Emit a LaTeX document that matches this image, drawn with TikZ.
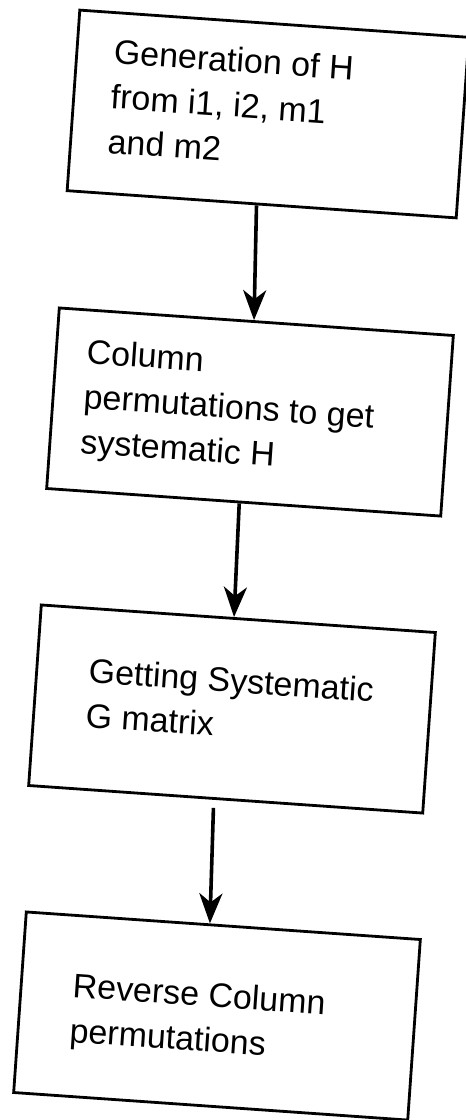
\documentclass[tikz,border=0pt]{standalone}
\usepackage{fontspec}
\setmainfont{Liberation Sans}
\usetikzlibrary{arrows.meta,calc}
\begin{document}
\begin{tikzpicture}[x=1pt,y=1pt,
  flowbox/.style={draw, line width=2.8pt, minimum width=395pt, minimum height=181pt, inner sep=0pt},
  flowtext/.style={anchor=north west, align=left, inner sep=0pt, font=\fontsize{34}{45}\selectfont},
  flowarrow/.style={line width=3.6pt, -{Stealth[length=30pt,width=23pt,inset=9pt]}}]
\useasboundingbox (0,0) rectangle (466,-1120);
\begin{scope}[shift={(268,-114)},rotate=-4,transform shape]
  \node[flowbox, minimum width=390pt] (b1) at (0,0) {};
  \node[flowtext] (t1) at (-158,64.5) {Generation of H\\from i1, i2, m1\\and m2};
\end{scope}
\begin{scope}[shift={(250,-412)},rotate=-4,transform shape]
  \node[flowbox] (b2) at (0,0) {};
  \node[flowtext] (t2) at (-167,62) {Column\\permutations to get\\systematic H};
\end{scope}
\begin{scope}[shift={(232,-709)},rotate=-4,transform shape]
  \node[flowbox] (b3) at (0,0) {};
  \node[flowtext] (t3) at (-145.5,41.5) {Getting Systematic\\G matrix};
\end{scope}
\begin{scope}[shift={(217,-1016)},rotate=-4,transform shape]
  \node[flowbox] (b4) at (0,0) {};
  \node[flowtext] (t4) at (-146,33.5) {Reverse Column\\permutations};
\end{scope}
\coordinate (a1s) at ($(b1.south west)!0.487!(b1.south east)$);
\coordinate (a1e) at ($(b2.north west)!0.494!(b2.north east)$);
\coordinate (a2s) at ($(b2.south west)!0.489!(b2.south east)$);
\coordinate (a2e) at ($(b3.north west)!0.489!(b3.north east)$);
\coordinate (a3s) at ($(b3.south west)!0.47!(b3.south east)$);
\coordinate (a3e) at ($(b4.north west)!0.466!(b4.north east)$);
\draw[flowarrow] (a1s) -- (a1e);
\draw[flowarrow] (a2s) -- (a2e);
\draw[flowarrow, shorten <=8pt] (a3s) -- (a3e);
\end{tikzpicture}
\end{document}
